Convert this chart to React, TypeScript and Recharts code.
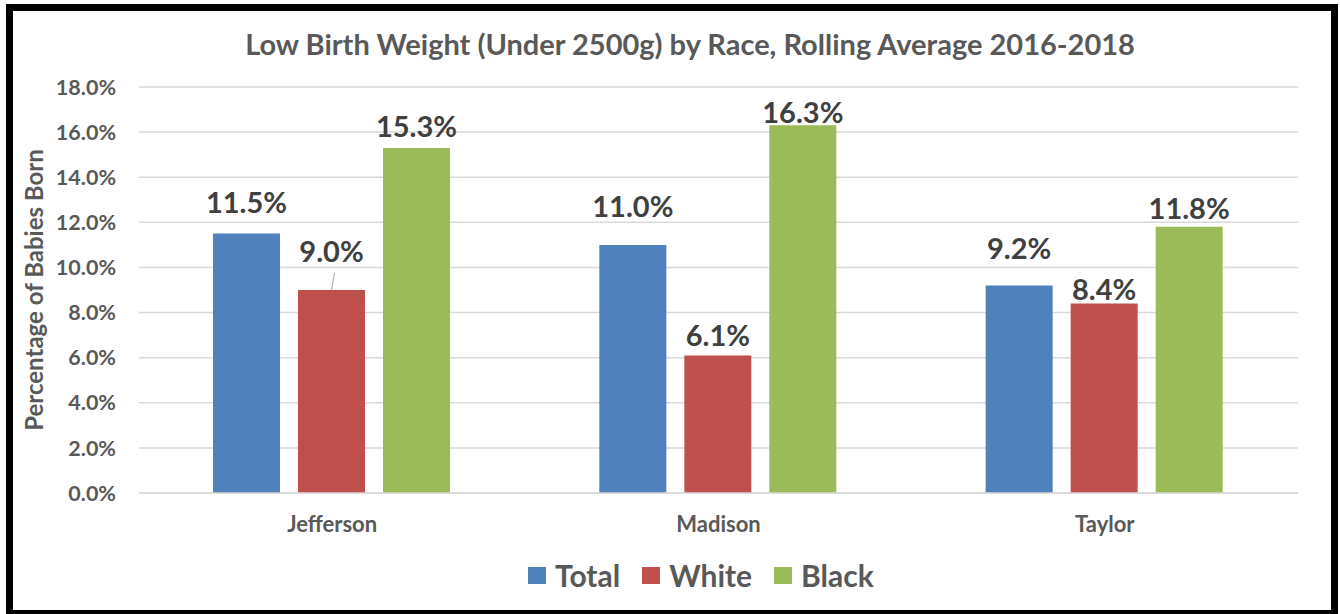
import React from 'react';
import { BarChart, Bar, XAxis, YAxis, CartesianGrid, LabelList } from 'recharts';

// Low birth weight share by county and race, 2016-2018 rolling average
const categories = ['Jefferson', 'Madison', 'Taylor'];
const totalValues = [11.5, 11.0, 9.2];
const whiteValues = [9.0, 6.1, 8.4];
const blackValues = [15.3, 16.3, 11.8];
const yTicks = [0, 2, 4, 6, 8, 10, 12, 14, 16, 18];

const seriesNames = ['Total', 'White', 'Black'];
const seriesColors = ['#4F81BD', '#C0504D', '#9BBB59'];

const data = categories.map((name, i) => ({
  name,
  Total: totalValues[i],
  White: whiteValues[i],
  Black: blackValues[i],
}));

// distance (px) from the top of each bar to its label's baseline
const labelLift: Record<string, number[]> = {
  Total: [21, 28, 26],
  White: [28, 9, 4],
  Black: [11, 2, 8],
};
// labels that were pulled away from their bar get a leader line
const leader: Record<string, boolean[]> = {
  Total: [false, false, false],
  White: [true, false, false],
  Black: [false, false, false],
};

const FONT = 'Lato, "Open Sans", sans-serif';
const AXIS_GREY = '#595959';

const makeLabel = (key: string) => (props: any) => {
  const { x, y, width, value, index } = props;
  const cx = Number(x) + Number(width) / 2;
  const top = Number(y);
  const base = top - labelLift[key][index];
  return (
    <g>
      {leader[key][index] && (
        <line x1={cx + 3} y1={top - 17} x2={cx} y2={top} stroke="#A6A6A6" strokeWidth={1} />
      )}
      <text
        x={cx}
        y={base}
        textAnchor="middle"
        fill="#404040"
        fontFamily={FONT}
        fontWeight={700}
        fontSize={29}
      >
        {Number(value).toFixed(1)}%
      </text>
    </g>
  );
};

const YTitle = () => (
  <text
    transform="translate(33,290) rotate(-90)"
    textAnchor="middle"
    dominantBaseline="central"
    fill={AXIS_GREY}
    fontFamily={FONT}
    fontWeight={700}
    fontSize={24}
  >
    Percentage of Babies Born
  </text>
);

export default function App() {
  return (
    <div style={{ position: 'absolute', left: 0, top: 0, width: 1340, height: 614, background: '#fff' }}>
      <div
        style={{
          position: 'absolute',
          left: 0,
          top: 26,
          width: 1380,
          textAlign: 'center',
          fontFamily: FONT,
          fontWeight: 700,
          fontSize: 29,
          color: AXIS_GREY,
          lineHeight: '36px',
        }}
      >
        Low Birth Weight (Under 2500g) by Race, Rolling Average 2016-2018
      </div>
      <BarChart
        width={1340}
        height={614}
        data={data}
        margin={{ top: 87, right: 42, left: 0, bottom: 81 }}
        barCategoryGap={74}
        barGap={18}
        style={{ position: 'absolute', left: 0, top: 0 }}
      >
        <CartesianGrid vertical={false} stroke="#D9D9D9" strokeWidth={1.5} />
        <XAxis
          dataKey="name"
          height={40}
          tickLine={false}
          axisLine={{ stroke: '#D9D9D9', strokeWidth: 1.5 }}
          tickSize={0}
          tickMargin={23}
          tick={{ fill: AXIS_GREY, fontFamily: FONT, fontWeight: 700, fontSize: 22 }}
        />
        <YAxis
          width={139}
          domain={[0, 18]}
          ticks={yTicks}
          interval={0}
          tickLine={false}
          axisLine={false}
          tickSize={0}
          tickMargin={23}
          tickFormatter={(v: number) => `${v.toFixed(1)}%`}
          tick={{ fill: AXIS_GREY, fontFamily: FONT, fontWeight: 700, fontSize: 21.5 }}
          label={<YTitle />}
        />
        {seriesNames.map((key, i) => (
          <Bar key={key} dataKey={key} fill={seriesColors[i]} isAnimationActive={false}>
            <LabelList dataKey={key} content={makeLabel(key)} />
          </Bar>
        ))}
      </BarChart>
      <div
        style={{
          position: 'absolute',
          left: 528,
          top: 556,
          display: 'flex',
          alignItems: 'center',
          fontFamily: FONT,
          fontWeight: 700,
          fontSize: 30,
          color: AXIS_GREY,
          lineHeight: '38px',
        }}
      >
        {seriesNames.map((name, i) => (
          <div key={name} style={{ display: 'flex', alignItems: 'center', marginRight: i < seriesNames.length - 1 ? 22 : 0 }}>
            <span style={{ display: 'inline-block', width: 18, height: 17, background: seriesColors[i], marginRight: 9 }} />
            <span>{name}</span>
          </div>
        ))}
      </div>
      <div
        style={{
          position: 'absolute',
          left: 6,
          top: 4,
          width: 1332,
          height: 613,
          boxSizing: 'border-box',
          border: '7px solid #000',
          pointerEvents: 'none',
        }}
      />
    </div>
  );
}
